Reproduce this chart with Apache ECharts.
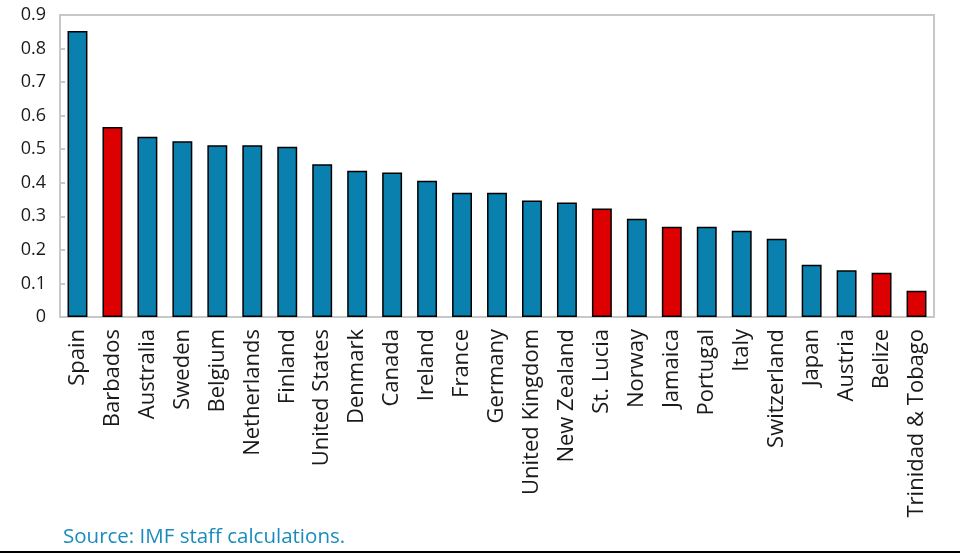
<!DOCTYPE html>
<html>
<head>
<meta charset="utf-8">
<script src="https://cdn.jsdelivr.net/npm/echarts@6/dist/echarts.min.js"></script>
<style>
  html, body { margin: 0; padding: 0; background: #fff; }
  #main { width: 960px; height: 558px; }
</style>
</head>
<body>
<div id="main"></div>
<script>
var countries = ['Spain', 'Barbados', 'Australia', 'Sweden', 'Belgium', 'Netherlands', 'Finland',
  'United States', 'Denmark', 'Canada', 'Ireland', 'France', 'Germany', 'United Kingdom',
  'New Zealand', 'St. Lucia', 'Norway', 'Jamaica', 'Portugal', 'Italy', 'Switzerland',
  'Japan', 'Austria', 'Belize', 'Trinidad & Tobago'];
var values = [0.852, 0.566, 0.537, 0.524, 0.512, 0.512, 0.507, 0.455, 0.436, 0.431, 0.406,
  0.370, 0.370, 0.347, 0.341, 0.323, 0.293, 0.269, 0.269, 0.257, 0.233, 0.156, 0.139, 0.132, 0.078];
// Caribbean countries drawn in red
var highlighted = ['Barbados', 'St. Lucia', 'Jamaica', 'Belize', 'Trinidad & Tobago'];

var blue = '#0A80AE';
var red = '#DD0000';
var font = '"Open Sans", sans-serif';

var myChart = echarts.init(document.getElementById('main'));
myChart.setOption({
  animation: false,
  grid: {
    left: 60, right: 26, top: 15, bottom: 241,
    show: true, borderColor: '#C8C8C8', borderWidth: 2
  },
  xAxis: {
    type: 'category',
    data: countries,
    axisLine: { lineStyle: { color: '#C8C8C8', width: 2 } },
    axisTick: { inside: true, length: 5, lineStyle: { color: '#C8C8C8', width: 2 } },
    axisLabel: {
      rotate: 90, interval: 0, color: '#1a1a1a', fontSize: 22, fontFamily: font, margin: 12
    }
  },
  yAxis: {
    type: 'value',
    min: 0, max: 0.9, interval: 0.1,
    splitLine: { show: false },
    axisLine: { show: true, lineStyle: { color: '#C8C8C8', width: 2 } },
    axisTick: { show: true, inside: true, length: 5, lineStyle: { color: '#C8C8C8', width: 2 } },
    axisLabel: {
      color: '#1a1a1a', fontSize: 18, fontFamily: font, margin: 14,
      formatter: function (v) { return +v.toFixed(1) + ''; }
    }
  },
  series: [{
    type: 'bar',
    barWidth: '57%',
    data: values.map(function (v, i) {
      return {
        value: v,
        itemStyle: {
          color: highlighted.indexOf(countries[i]) >= 0 ? red : blue
        }
      };
    }),
    itemStyle: { borderColor: '#000', borderWidth: 1.5 }
  }],
  graphic: [{
    type: 'text',
    left: 63, top: 527,
    style: { text: 'Source: IMF staff calculations.', fill: '#1A8BBE', fontSize: 20.5, fontFamily: font }
  }, {
    type: 'line',
    shape: { x1: 0, y1: 552, x2: 960, y2: 552 },
    style: { stroke: '#000', lineWidth: 2 }
  }]
});
</script>
</body>
</html>
